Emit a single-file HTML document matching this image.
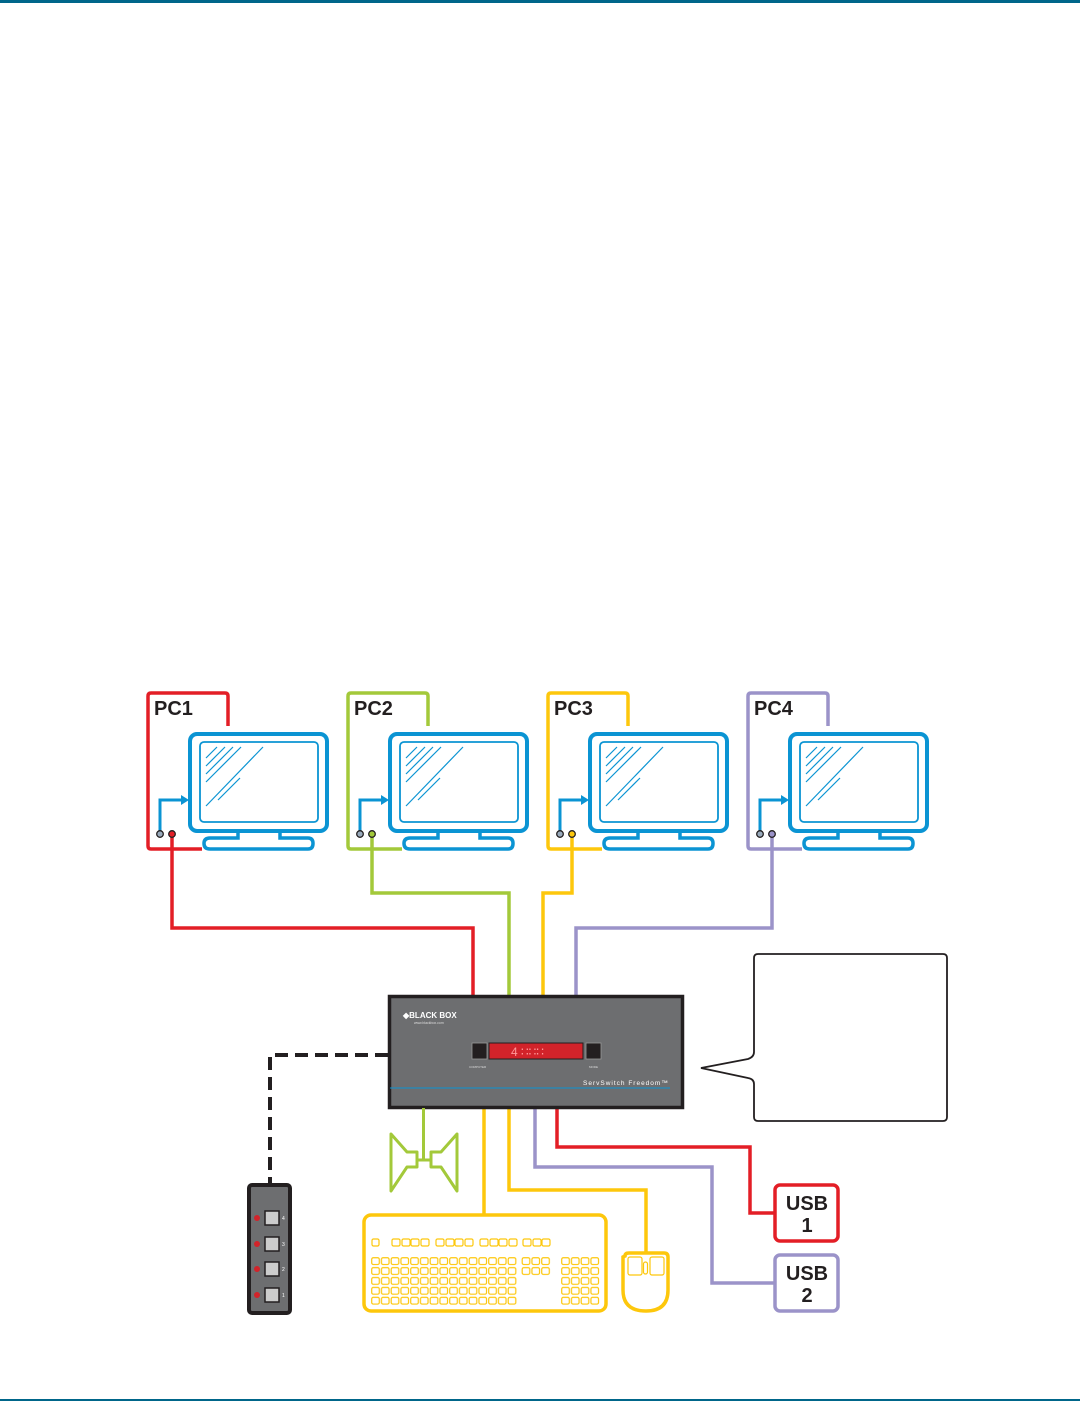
<!DOCTYPE html>
<html><head><meta charset="utf-8"><style>
html,body{margin:0;padding:0;background:#fff;}
svg{display:block;}
</style></head><body>
<svg width="1080" height="1402" viewBox="0 0 1080 1402" xmlns="http://www.w3.org/2000/svg" font-family="Liberation Sans, sans-serif">
<defs>
<pattern id="k" patternUnits="userSpaceOnUse" x="371" y="1257" width="9.75" height="9.9">
<rect x="0.7" y="0.7" width="7.6" height="6.8" rx="1.6" fill="none" stroke="#fdc70c" stroke-width="1.2"/>
</pattern>
<pattern id="k2" patternUnits="userSpaceOnUse" x="521.5" y="1257" width="9.75" height="9.9">
<rect x="0.7" y="0.7" width="7.6" height="6.8" rx="1.6" fill="none" stroke="#fdc70c" stroke-width="1.2"/>
</pattern>
<pattern id="k3" patternUnits="userSpaceOnUse" x="561" y="1257" width="9.75" height="9.9">
<rect x="0.7" y="0.7" width="7.6" height="6.8" rx="1.6" fill="none" stroke="#fdc70c" stroke-width="1.2"/>
</pattern>
<g id="mon">
<path d="M228,726 V696 Q228,693 225,693 H151 Q148,693 148,696 V846 Q148,849 151,849 H202" fill="none" stroke="var(--c)" stroke-width="3.5"/>
<rect x="190" y="734" width="137" height="97" rx="7" fill="none" stroke="#0b94d3" stroke-width="4"/>
<rect x="200" y="742" width="118" height="80" rx="4" fill="none" stroke="#0b94d3" stroke-width="1.8"/>
<g stroke="#0b94d3" stroke-width="1.2">
<line x1="206" y1="758" x2="217" y2="747"/><line x1="206" y1="766" x2="225" y2="747"/><line x1="206" y1="774" x2="233" y2="747"/><line x1="206" y1="782" x2="241" y2="747"/><line x1="206" y1="806" x2="263" y2="747"/><line x1="218" y1="800" x2="240" y2="778"/>
</g>
<path d="M238,831 V838 H210 Q204,838 204,843.5 Q204,849 210,849 H308 Q313,849 313,843.5 Q313,838 308,838 H280 V831" fill="none" stroke="#0b94d3" stroke-width="3.5"/>
<path d="M160,831 V800 H183" fill="none" stroke="#0b94d3" stroke-width="3"/>
<path d="M181,795 L189,800 L181,805 Z" fill="#0b94d3"/>
<circle cx="160" cy="834" r="3.3" fill="#9ab" stroke="#231f20" stroke-width="1.3"/>
<circle cx="172" cy="834" r="3.3" fill="var(--c)" stroke="#231f20" stroke-width="1.3"/>
</g>
</defs>
<rect x="0" y="0" width="1080" height="3" fill="#00668a"/>
<rect x="0" y="1399" width="1080" height="2" fill="#00668a"/>

<g fill="none" stroke-width="3.5">
<path d="M172,836 V928 H473 V996" stroke="#e31e26"/>
<path d="M372,836 V893 H509 V996" stroke="#a3c93a"/>
<path d="M572,836 V893 H543 V996" stroke="#fdc70c"/>
<path d="M772,836 V928 H576 V996" stroke="#9b93c9"/>
</g>

<use href="#mon" style="--c:#e31e26"/>
<use href="#mon" x="200" style="--c:#a3c93a"/>
<use href="#mon" x="400" style="--c:#fdc70c"/>
<use href="#mon" x="600" style="--c:#9b93c9"/>
<g font-weight="bold" font-size="20" fill="#231f20">
<text x="154" y="715">PC1</text><text x="354" y="715">PC2</text><text x="554" y="715">PC3</text><text x="754" y="715">PC4</text>
</g>

<g fill="none" stroke-width="3.5">
<path d="M557,1108 V1147 H750 V1213 H775" stroke="#e31e26"/>
<path d="M535,1108 V1167 H712 V1283 H775" stroke="#9b93c9"/>
<path d="M484,1108 V1215" stroke="#fdc70c"/>
<path d="M509,1108 V1190 H646 V1253" stroke="#fdc70c"/>
</g>
<path d="M388,1055 H270 V1186" fill="none" stroke="#231f20" stroke-width="4" stroke-dasharray="13 7"/>

<rect x="389.5" y="996.5" width="293" height="111" fill="#6d6e70" stroke="#231f20" stroke-width="3.5"/>
<text x="403" y="1018" font-size="8" font-weight="bold" fill="#fff">◆BLACK BOX</text>
<text x="414" y="1024" font-size="3.5" fill="#ddd">www.blackbox.com</text>
<rect x="472" y="1043" width="15" height="16" fill="#231f20" stroke="#999" stroke-width="0.8"/>
<rect x="489" y="1043" width="94" height="16" fill="#d2232a" stroke="#231f20" stroke-width="1"/>
<rect x="586" y="1043" width="15" height="16" fill="#231f20" stroke="#999" stroke-width="0.8"/>
<text x="511" y="1056" font-size="12" fill="#f99">4 ∷∷∷</text>
<text x="469" y="1068" font-size="3" fill="#ddd">COMPUTER</text>
<text x="589" y="1068" font-size="3" fill="#ddd">MODE</text>
<line x1="390" y1="1088" x2="670" y2="1088" stroke="#0b94d3" stroke-width="1"/>
<text x="583" y="1085" font-size="6.5" fill="#fff" letter-spacing="1">ServSwitch Freedom™</text>

<path d="M758,954 H943 Q947,954 947,958 V1117 Q947,1121 943,1121 H758 Q754,1121 754,1117 V1084 Q754,1079 748,1078 L701,1068 L748,1059 Q754,1057 754,1052 V958 Q754,954 758,954 Z" fill="#fff" stroke="#231f20" stroke-width="1.8"/>

<rect x="775" y="1185" width="63" height="56" rx="5" fill="#fff" stroke="#e31e26" stroke-width="3.5"/>
<rect x="775" y="1255" width="63" height="56" rx="5" fill="#fff" stroke="#9b93c9" stroke-width="3.5"/>
<g font-weight="bold" font-size="20" fill="#231f20" text-anchor="middle">
<text x="807" y="1210">USB</text><text x="807" y="1232">1</text>
<text x="807" y="1280">USB</text><text x="807" y="1302">2</text>
</g>

<g fill="none" stroke="#a3c93a" stroke-width="3" stroke-linejoin="round">
<line x1="423.5" y1="1108" x2="423.5" y2="1160"/>
<path d="M391,1134 L407,1152 H417 V1167 H407 L391,1191 Z"/>
<path d="M457,1134 L441,1152 H431 V1167 H441 L457,1191 Z"/>
<line x1="417" y1="1160" x2="431" y2="1160"/>
</g>

<rect x="249" y="1185" width="41" height="128" rx="3" fill="#6d6e70" stroke="#231f20" stroke-width="4"/>
<g>
<circle cx="257" cy="1218" r="3" fill="#d2232a"/><rect x="265" y="1211" width="14" height="14" fill="#ccc" stroke="#231f20" stroke-width="1.5"/><text x="282" y="1220" font-size="5" fill="#fff">4</text>
<circle cx="257" cy="1244" r="3" fill="#d2232a"/><rect x="265" y="1237" width="14" height="14" fill="#ccc" stroke="#231f20" stroke-width="1.5"/><text x="282" y="1246" font-size="5" fill="#fff">3</text>
<circle cx="257" cy="1269" r="3" fill="#d2232a"/><rect x="265" y="1262" width="14" height="14" fill="#ccc" stroke="#231f20" stroke-width="1.5"/><text x="282" y="1271" font-size="5" fill="#fff">2</text>
<circle cx="257" cy="1295" r="3" fill="#d2232a"/><rect x="265" y="1288" width="14" height="14" fill="#ccc" stroke="#231f20" stroke-width="1.5"/><text x="282" y="1297" font-size="5" fill="#fff">1</text>
</g>

<rect x="364" y="1215" width="242" height="96" rx="7" fill="#fff" stroke="#fdc70c" stroke-width="3.5"/>
<g fill="none" stroke="#fdc70c" stroke-width="1.2">
<rect x="372" y="1239" width="7" height="7" rx="1.5"/>
<rect x="392" y="1239" width="8" height="7" rx="1.5"/><rect x="402" y="1239" width="8" height="7" rx="1.5"/><rect x="411" y="1239" width="8" height="7" rx="1.5"/><rect x="421" y="1239" width="8" height="7" rx="1.5"/>
<rect x="436" y="1239" width="8" height="7" rx="1.5"/><rect x="446" y="1239" width="8" height="7" rx="1.5"/><rect x="455" y="1239" width="8" height="7" rx="1.5"/><rect x="465" y="1239" width="8" height="7" rx="1.5"/>
<rect x="480" y="1239" width="8" height="7" rx="1.5"/><rect x="490" y="1239" width="8" height="7" rx="1.5"/><rect x="499" y="1239" width="8" height="7" rx="1.5"/><rect x="509" y="1239" width="8" height="7" rx="1.5"/>
<rect x="523" y="1239" width="8" height="7" rx="1.5"/><rect x="533" y="1239" width="8" height="7" rx="1.5"/><rect x="542" y="1239" width="8" height="7" rx="1.5"/>
</g>
<rect x="371" y="1257" width="146" height="49" fill="url(#k)"/>
<rect x="521.5" y="1257" width="29" height="19" fill="url(#k2)"/>
<rect x="561" y="1257" width="39" height="49" fill="url(#k3)"/>

<path d="M625,1256 Q625,1253 629,1253 H664 Q668,1253 668,1257 V1290 Q668,1311 646,1311 Q623,1311 623,1290 V1257 Z" fill="#fff" stroke="#fdc70c" stroke-width="3.5"/>
<g fill="none" stroke="#fdc70c" stroke-width="1.2">
<rect x="628" y="1257" width="14" height="18" rx="2"/><rect x="650" y="1257" width="14" height="18" rx="2"/><rect x="643.5" y="1262" width="4" height="12" rx="2"/>
</g>
</svg>
</body></html>
